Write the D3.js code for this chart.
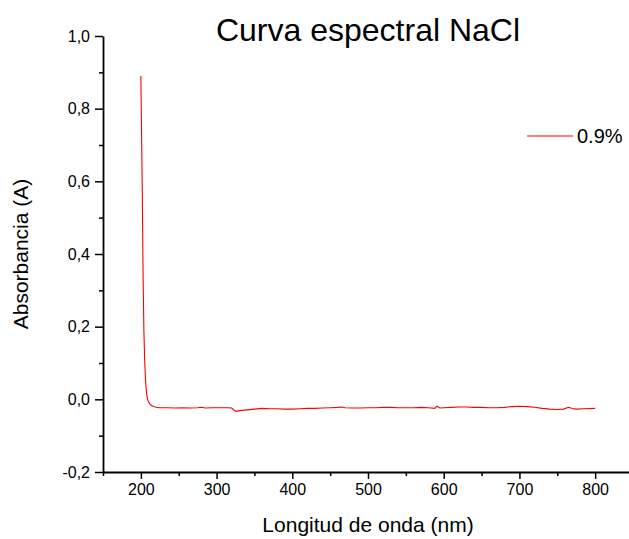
<!DOCTYPE html>
<html>
<head>
  <script src="https://cdn.jsdelivr.net/npm/d3@7"></script>
  <meta charset="utf-8">
  <title>Curva espectral NaCl</title>
  <style>
    body { margin: 0; background: #fff; }
    text { font-family: "Liberation Sans", Arial, sans-serif; fill: #000; }
  </style>
</head>
<body>
<script>
  // wavelength (nm) and absorbance
  var wavelength = [200, 201, 202, 203, 204, 205, 206, 207, 208, 209, 210, 212, 214, 217, 220, 225,
    235, 245, 255, 265, 275, 280, 285, 295, 305, 315, 320, 323, 326, 330, 340, 350, 360, 370, 380,
    390, 400, 410, 420, 430, 440, 450, 460, 465, 470, 480, 490, 500, 510, 520, 530, 540, 550, 560,
    570, 580, 588, 591, 595, 600, 610, 620, 630, 640, 650, 660, 670, 680, 690, 700, 710, 720, 730,
    740, 750, 758, 765, 770, 775, 785, 800];
  var absorbance = [0.89, 0.72, 0.55, 0.33, 0.19, 0.11, 0.06, 0.028, 0.01, 0.0, -0.007, -0.013,
    -0.017, -0.020, -0.022, -0.023, -0.023, -0.024, -0.023, -0.024, -0.023, -0.022, -0.024, -0.023,
    -0.023, -0.023, -0.024, -0.030, -0.033, -0.031, -0.029, -0.027, -0.025, -0.026, -0.026, -0.027,
    -0.027, -0.026, -0.025, -0.025, -0.024, -0.023, -0.022, -0.021, -0.023, -0.024, -0.024, -0.023,
    -0.023, -0.022, -0.022, -0.023, -0.023, -0.023, -0.022, -0.023, -0.025, -0.019, -0.024, -0.023,
    -0.022, -0.021, -0.021, -0.022, -0.022, -0.023, -0.023, -0.022, -0.020, -0.019, -0.020, -0.022,
    -0.025, -0.027, -0.028, -0.027, -0.022, -0.025, -0.027, -0.026, -0.025];

  var xTicks = [200, 300, 400, 500, 600, 700, 800];
  var yTicks = [-0.2, 0.0, 0.2, 0.4, 0.6, 0.8, 1.0];
  var seriesName = "0.9%";

  var width = 629, height = 539;
  var m = { left: 103, right: 633, top: 36, bottom: 472 };

  var svg = d3.select("body").append("svg")
    .attr("width", width)
    .attr("height", height);

  var x = d3.scaleLinear().domain([150, 850]).range([m.left, m.right]);
  var y = d3.scaleLinear().domain([-0.2, 1.0]).range([m.bottom, m.top]);

  // comma decimals, plain hyphen for the minus sign
  var fmt = function(d){ return d3.format(".1f")(d).replace(".", ",").replace("\u2212", "-"); };

  // minor ticks
  svg.append("g")
    .attr("transform", "translate(0," + m.bottom + ")")
    .call(d3.axisBottom(x).tickValues(d3.range(150, 851, 100)).tickSize(4).tickFormat(""))
    .call(function(g){ g.select(".domain").remove(); })
    .selectAll("line").attr("stroke-width", 1.5);

  svg.append("g")
    .attr("transform", "translate(" + m.left + ",0)")
    .call(d3.axisLeft(y).tickValues(d3.range(-0.1, 1.0, 0.2)).tickSize(4).tickFormat(""))
    .call(function(g){ g.select(".domain").remove(); })
    .selectAll("line").attr("stroke-width", 1.5);

  // major axes
  var xAxis = svg.append("g")
    .attr("transform", "translate(0," + m.bottom + ")")
    .call(d3.axisBottom(x).tickValues(xTicks).tickSize(7).tickSizeOuter(0).tickPadding(5));

  var yAxis = svg.append("g")
    .attr("transform", "translate(" + m.left + ",0)")
    .call(d3.axisLeft(y).tickValues(yTicks).tickSize(8).tickSizeOuter(0).tickPadding(5).tickFormat(fmt));

  [xAxis, yAxis].forEach(function(a){
    a.attr("font-size", null).attr("font-family", null);
    a.select(".domain").attr("stroke-width", 1.8);
    a.selectAll("line").attr("stroke-width", 1.5);
    a.selectAll("text").style("font-size", "16px");
  });

  // spectrum
  var line = d3.line()
    .x(function(d){ return x(d[0]); })
    .y(function(d){ return y(d[1]); });

  svg.append("path")
    .datum(d3.zip(wavelength, absorbance))
    .attr("d", line)
    .attr("fill", "none")
    .attr("stroke", "#ff0000")
    .attr("stroke-width", 1.1);

  // title and axis labels
  svg.append("text")
    .attr("x", (m.left + m.right) / 2)
    .attr("y", 41)
    .attr("text-anchor", "middle")
    .style("font-size", "32px")
    .text("Curva espectral NaCl");

  svg.append("text")
    .attr("x", (m.left + m.right) / 2)
    .attr("y", 532)
    .attr("text-anchor", "middle")
    .style("font-size", "21px")
    .text("Longitud de onda (nm)");

  svg.append("text")
    .attr("transform", "translate(28," + (m.top + m.bottom) / 2 + ") rotate(-90)")
    .attr("text-anchor", "middle")
    .style("font-size", "21px")
    .text("Absorbancia (A)");

  // legend
  var legY = 136;
  svg.append("line")
    .attr("x1", 527).attr("x2", 573)
    .attr("y1", legY).attr("y2", legY)
    .attr("stroke", "#ff0000")
    .attr("stroke-width", 1.1);

  svg.append("text")
    .attr("x", 577)
    .attr("y", legY)
    .attr("dy", "0.35em")
    .style("font-size", "20px")
    .text(seriesName);
</script>
</body>
</html>
